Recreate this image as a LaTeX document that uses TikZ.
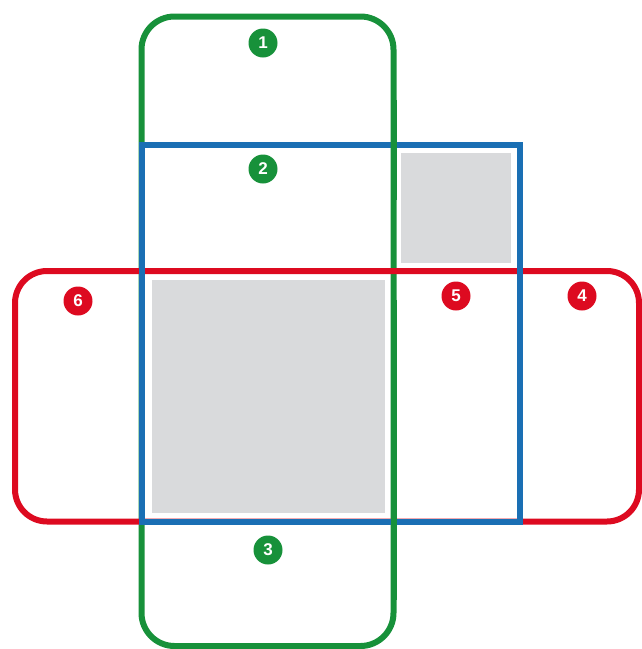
\documentclass[tikz,border=0pt]{standalone}
\usepackage{fontspec}
\setsansfont{Liberation Sans}
\definecolor{gr}{HTML}{17913A}
\definecolor{bl}{HTML}{1A6FB4}
\definecolor{rd}{HTML}{DD0A20}
\definecolor{gy}{HTML}{D9DADC}
\tikzset{
  greenline/.style={draw=gr, line width=6pt},
  blueline/.style={draw=bl, line width=5.5pt},
  redline/.style={draw=rd, line width=6pt},
  badge/.style={circle, minimum size=29pt, inner sep=0pt, text=white,
    font=\sffamily\bfseries\fontsize{17}{17}\selectfont},
}
\begin{document}
\begin{tikzpicture}[x=1pt,y=-1pt]
\useasboundingbox (0,0) rectangle (642,649);
% grey panels
\fill[gy] (401,153) rectangle (511,263);
\fill[gy] (152,280) rectangle (385,513);
% blue square
\draw[blueline] (142,145) rectangle (520,522);
% green strip
\draw[greenline, rounded corners=33pt] (141.5,16.5) rectangle (393.5,646);
% green right edge over blue top
\draw[greenline] (393.5,100) -- (393.5,200);
% red strip
\draw[redline, rounded corners=32pt] (15,271) rectangle (639,521.5);
% blue over red
\draw[blueline, line cap=rect] (142,145) -- (142,522) -- (520,522) -- (520,145);
% green right edge over blue bottom
\draw[greenline] (393.5,300) -- (393.5,600);
% badges
\node[badge, fill=gr] (n1) at (263,43) {1};
\node[badge, fill=gr] (n2) at (263,169) {2};
\node[badge, fill=gr] (n3) at (268,550) {3};
\node[badge, fill=rd] (n4) at (582,296) {4};
\node[badge, fill=rd] (n5) at (456,296) {5};
\node[badge, fill=rd] (n6) at (78,301) {6};
\end{tikzpicture}
\end{document}
